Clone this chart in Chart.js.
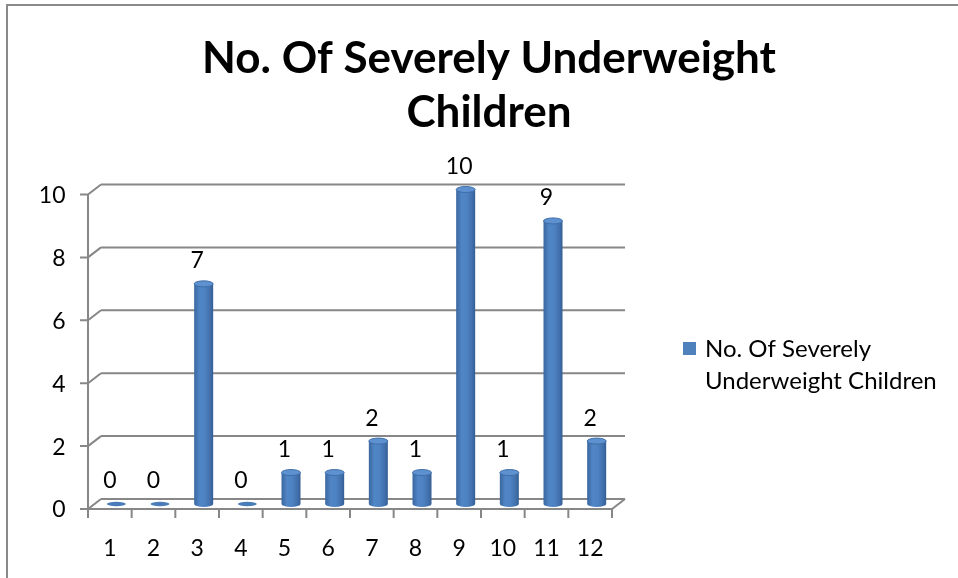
<!DOCTYPE html>
<html>
<head>
<meta charset="utf-8">
<script src="https://cdn.jsdelivr.net/npm/chart.js@4/dist/chart.umd.min.js"></script>
<style>
  html, body { margin: 0; padding: 0; background: #fff; }
  #wrap { position: relative; width: 958px; height: 578px; }
</style>
</head>
<body>
<div id="wrap"><canvas id="chart" width="958" height="578"></canvas></div>
<script>
// Survey months and counts of severely underweight children
const categories = ['1', '2', '3', '4', '5', '6', '7', '8', '9', '10', '11', '12'];
const severelyUnderweight = [0, 0, 7, 0, 1, 1, 2, 1, 10, 1, 9, 2];
const seriesLabel = 'No. Of Severely Underweight Children';
const titleLines = ['No. Of Severely Underweight', 'Children'];
const yTickStep = 2;
const yMax = 10;

const FONT = 'Lato, "Liberation Sans", sans-serif';
const BAR_BLUE = '#4F81BD';
const GRID = '#878787';
// half of the 3-D depth offset: back wall is up/right, front edge down/left
const DX = 6.5, DY = 5;

// gray frame around the chart object
const framePlugin = {
  id: 'frame',
  beforeDraw(chart) {
    const ctx = chart.ctx;
    ctx.save();
    ctx.strokeStyle = '#8a8a8a';
    ctx.lineWidth = 2;
    ctx.beginPath();
    ctx.moveTo(7, 578);
    ctx.lineTo(7, 5);
    ctx.lineTo(958, 5);
    ctx.stroke();
    ctx.restore();
  }
};

// back wall gridlines, floor and front axis lines in oblique projection
const wallsPlugin = {
  id: 'walls',
  beforeDatasetsDraw(chart) {
    const { ctx, chartArea, scales } = chart;
    const y = scales.y;
    const left = chartArea.left, right = chartArea.right;
    const y0 = y.getPixelForValue(0);
    const yTop = y.getPixelForValue(yMax);
    ctx.save();
    ctx.strokeStyle = GRID;
    ctx.lineWidth = 2;
    ctx.lineCap = 'butt';
    ctx.beginPath();
    y.ticks.forEach(t => {
      const py = y.getPixelForValue(t.value);
      // back wall line
      ctx.moveTo(left + DX, py - DY);
      ctx.lineTo(right + DX, py - DY);
      // side wall connector
      ctx.moveTo(left - DX, py + DY);
      ctx.lineTo(left + DX, py - DY);
      // tick mark on front axis
      ctx.moveTo(left - DX - 8, py + DY);
      ctx.lineTo(left - DX, py + DY);
    });
    // front vertical axis
    ctx.moveTo(left - DX, yTop + DY);
    ctx.lineTo(left - DX, y0 + DY + 9);
    // floor front edge and right side
    ctx.moveTo(left - DX, y0 + DY);
    ctx.lineTo(right - DX, y0 + DY);
    ctx.lineTo(right + DX, y0 - DY);
    // category separators
    const n = categories.length;
    const step = (right - left) / n;
    for (let i = 1; i <= n; i++) {
      const px = left - DX + i * step;
      ctx.moveTo(px, y0 + DY);
      ctx.lineTo(px, y0 + DY + 9);
    }
    ctx.stroke();
    ctx.restore();
  }
};

function drawCylinder(ctx, cx, top, base, w) {
  const r = w / 2, ry = 3;
  if (base - top < 0.5) {
    ctx.beginPath();
    ctx.ellipse(cx, base, r, 2.2, 0, 0, Math.PI * 2);
    ctx.fillStyle = '#4A7CB9';
    ctx.fill();
    return;
  }
  const g = ctx.createLinearGradient(cx - r, 0, cx + r, 0);
  g.addColorStop(0, '#3A679F');
  g.addColorStop(0.3, '#5186C6');
  g.addColorStop(0.55, '#4E83C3');
  g.addColorStop(0.85, '#416FAA');
  g.addColorStop(1, '#345D93');
  ctx.beginPath();
  ctx.moveTo(cx - r, top);
  ctx.lineTo(cx - r, base);
  ctx.ellipse(cx, base, r, ry, 0, Math.PI, 0, true);
  ctx.lineTo(cx + r, top);
  ctx.closePath();
  ctx.fillStyle = g;
  ctx.fill();
  ctx.beginPath();
  ctx.ellipse(cx, top, r, ry, 0, 0, Math.PI * 2);
  ctx.fillStyle = '#5E91CF';
  ctx.fill();
  ctx.strokeStyle = '#3F6EA8';
  ctx.lineWidth = 1;
  ctx.stroke();
}

// columns rendered as cylinders with value labels
const cylinderPlugin = {
  id: 'cylinders',
  beforeDatasetDraw(chart, args) {
    const ctx = chart.ctx;
    const meta = args.meta;
    const values = chart.data.datasets[args.index].data;
    ctx.save();
    meta.data.forEach(bar => {
      drawCylinder(ctx, bar.x, bar.y, bar.base, bar.width);
    });
    ctx.fillStyle = '#000';
    ctx.font = '23px ' + FONT;
    ctx.textAlign = 'center';
    ctx.textBaseline = 'middle';
    meta.data.forEach((bar, i) => {
      ctx.fillText(String(values[i]), bar.x - DX, bar.y - 23);
    });
    ctx.restore();
    return false;
  }
};

// legend at the right with wrapped series name
const sideLegendPlugin = {
  id: 'sideLegend',
  afterDraw(chart) {
    const ctx = chart.ctx;
    const ds = chart.data.datasets[0];
    ctx.save();
    ctx.font = '24px ' + FONT;
    const words = ds.label.split(' ');
    const lines = [];
    let cur = '';
    words.forEach(wd => {
      const test = cur ? cur + ' ' + wd : wd;
      if (ctx.measureText(test).width > 245 && cur) { lines.push(cur); cur = wd; }
      else cur = test;
    });
    if (cur) lines.push(cur);
    ctx.fillStyle = ds.backgroundColor;
    ctx.fillRect(683, 342, 13, 13);
    ctx.fillStyle = '#000';
    ctx.textAlign = 'left';
    ctx.textBaseline = 'middle';
    lines.forEach((ln, i) => ctx.fillText(ln, 705, 349 + i * 32));
    ctx.restore();
  }
};

new Chart(document.getElementById('chart'), {
  type: 'bar',
  data: {
    labels: categories,
    datasets: [{
      label: seriesLabel,
      data: severelyUnderweight,
      backgroundColor: BAR_BLUE,
      categoryPercentage: 1,
      barPercentage: 0.435
    }]
  },
  options: {
    responsive: false,
    animation: false,
    events: [],
    layout: { padding: { left: 20, top: 0, right: 0, bottom: 0 } },
    plugins: {
      legend: { display: false },
      tooltip: { enabled: false },
      title: {
        display: true,
        text: titleLines,
        color: '#000',
        font: { family: FONT, size: 44, weight: 'bold', lineHeight: '54px' },
        padding: { top: 32, bottom: 49.5 }
      }
    },
    scales: {
      x: {
        grid: { display: false, drawTicks: false },
        border: { display: false },
        ticks: { color: '#000', font: { family: FONT, size: 23 }, padding: 31, labelOffset: -DX, maxRotation: 0 },
        afterFit(s) { s.height = 74; }
      },
      y: {
        min: 0,
        max: yMax,
        grid: { display: false, drawTicks: false },
        border: { display: false },
        ticks: { stepSize: yTickStep, color: '#000', font: { family: FONT, size: 23 }, padding: 29, labelOffset: 6 },
        afterFit(s) { s.width = 74.5; }
      },
      legendSpace: {
        type: 'linear',
        position: 'right',
        display: true,
        grid: { display: false, drawTicks: false },
        border: { display: false },
        ticks: { display: false },
        afterFit(s) { s.width = 339.5; }
      }
    }
  },
  plugins: [framePlugin, wallsPlugin, cylinderPlugin, sideLegendPlugin]
});
</script>
</body>
</html>
